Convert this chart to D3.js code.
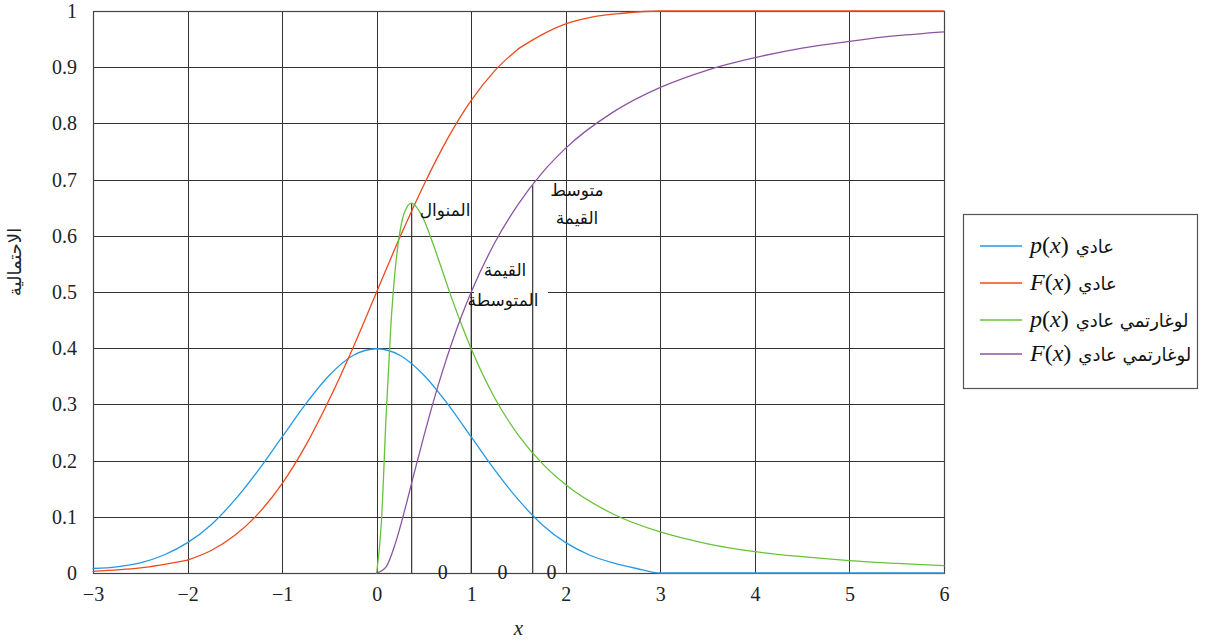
<!DOCTYPE html>
<html>
<head>
<meta charset="utf-8">
<script src="https://cdn.jsdelivr.net/npm/d3@7"></script>
<style>
  html, body { margin: 0; padding: 0; background: #fff; }
  svg { display: block; }
</style>
</head>
<body>
<svg id="chart" width="1214" height="643"></svg>
<script>
// Axis ticks
const xTicks = [-3, -2, -1, 0, 1, 2, 3, 4, 5, 6];
const yTicks = [0, 0.1, 0.2, 0.3, 0.4, 0.5, 0.6, 0.7, 0.8, 0.9, 1];
const yTickLabels = ["0", "0.1", "0.2", "0.3", "0.4", "0.5", "0.6", "0.7", "0.8", "0.9", "1"];

// Normal density p(x)
const normPdfX = [-3, -2.75, -2.5, -2.25, -2, -1.75, -1.5, -1.25, -1, -0.75, -0.5, -0.25, 0,
                  0.25, 0.5, 0.75, 1, 1.25, 1.5, 1.75, 2, 2.25, 2.5, 2.75, 3, 6];
const normPdfY = [0.008, 0.011, 0.018, 0.032, 0.054, 0.086, 0.130, 0.183, 0.242, 0.301, 0.352, 0.387, 0.399,
                  0.387, 0.352, 0.301, 0.242, 0.183, 0.130, 0.086, 0.054, 0.032, 0.018, 0.008, 0, 0];

// Normal distribution F(x); the curve has corners at x = -2 and x = 1.5
const normCdfX = [-3, -2.5, -2, -1.75, -1.5, -1.25, -1, -0.75, -0.5, -0.25, 0,
                  0.25, 0.5, 0.75, 1, 1.25, 1.5, 1.75, 2, 2.3, 2.6, 3, 6];
const normCdfY = [0.003, 0.009, 0.023, 0.040, 0.067, 0.106, 0.159, 0.227, 0.309, 0.401, 0.5,
                  0.599, 0.691, 0.773, 0.841, 0.894, 0.933, 0.958, 0.977, 0.99, 0.996, 1, 1];
const normCdfCorners = [-2, 1.5];

// Log-normal density p(x)
const logPdfX = [0, 0.05, 0.1, 0.15, 0.2, 0.25, 0.3, 0.37, 0.45, 0.5, 0.6, 0.7, 0.8, 0.9, 1,
                 1.25, 1.5, 1.75, 2, 2.5, 3, 3.5, 4, 4.5, 5, 5.5, 6];
const logPdfY = [0, 0.09, 0.28, 0.44, 0.547, 0.611, 0.644, 0.658, 0.644, 0.628, 0.584, 0.535, 0.486, 0.441, 0.399,
                 0.311, 0.245, 0.195, 0.157, 0.105, 0.073, 0.052, 0.038, 0.029, 0.022, 0.017, 0.013];

// Log-normal distribution F(x)
const logCdfX = [0, 0.1, 0.2, 0.3, 0.4, 0.5, 0.6, 0.7, 0.8, 0.9, 1,
                 1.25, 1.5, 1.75, 2, 2.5, 3, 3.5, 4, 4.5, 5, 5.5, 6];
const logCdfY = [0, 0.011, 0.054, 0.114, 0.180, 0.244, 0.305, 0.361, 0.412, 0.458, 0.5,
                 0.588, 0.657, 0.712, 0.756, 0.820, 0.864, 0.895, 0.917, 0.934, 0.946, 0.956, 0.963];

// Mode, median and mean of the log-normal curve
const markerX = [0.37, 1, 1.65];
const markerTop = [0.658, 0.5, 0.69];
const zeroLabelX = [0.70, 1.33, 1.85];

const seriesNames = ["عادي", "عادي", "لوغارتمي عادي", "لوغارتمي عادي"];
const seriesSymbols = ["p", "F", "p", "F"];
const seriesColors = ["#2499e6", "#ee4a1c", "#68c23a", "#8c55a2"];

const SERIF = "'Liberation Serif', 'DejaVu Serif', serif";
const ARABIC = "'DejaVu Sans', sans-serif";

const svg = d3.select("#chart");
const plotLeft = 93, plotRight = 944, plotTop = 11, plotBottom = 573;

const x = d3.scaleLinear().domain([-3, 6]).range([plotLeft, plotRight]);
const y = d3.scaleLinear().domain([0, 1]).range([plotBottom, plotTop]);

// Grid
const grid = svg.append("g").attr("stroke", "#333").attr("stroke-width", 1);
grid.selectAll("line.v").data(xTicks).join("line").attr("class", "v")
  .attr("x1", d => Math.round(x(d)) + 0.5).attr("x2", d => Math.round(x(d)) + 0.5)
  .attr("y1", plotTop).attr("y2", plotBottom);
grid.selectAll("line.h").data(yTicks).join("line").attr("class", "h")
  .attr("y1", d => Math.round(y(d)) + 0.5).attr("y2", d => Math.round(y(d)) + 0.5)
  .attr("x1", plotLeft).attr("x2", plotRight);

// Frame
svg.append("rect")
  .attr("x", plotLeft + 0.5).attr("y", plotTop + 0.5)
  .attr("width", plotRight - plotLeft).attr("height", plotBottom - plotTop)
  .attr("fill", "none").attr("stroke", "#444").attr("stroke-width", 1.2);

// Axes tick labels
const xAxis = d3.axisBottom(x).tickValues(xTicks).tickSize(0).tickPadding(14)
  .tickFormat(d => d < 0 ? "\u2212" + Math.abs(d) : String(d));
const gx = svg.append("g").attr("transform", `translate(0,${plotBottom})`).call(xAxis)
  .attr("font-family", SERIF).attr("font-size", 20);
gx.select(".domain").remove();
gx.selectAll("text").attr("fill", "#222");

const yAxis = d3.axisLeft(y).tickValues(yTicks).tickSize(0).tickPadding(16)
  .tickFormat((d, i) => yTickLabels[i]);
const gy = svg.append("g").attr("transform", `translate(${plotLeft},0)`).call(yAxis)
  .attr("font-family", SERIF).attr("font-size", 20);
gy.select(".domain").remove();
gy.selectAll("text").attr("fill", "#222");

// Axis titles
svg.append("text").attr("font-family", SERIF)
  .attr("x", (plotLeft + plotRight) / 2).attr("y", 635)
  .attr("text-anchor", "middle").attr("font-size", 21).attr("font-style", "italic")
  .attr("fill", "#222").text("x");
svg.append("text").attr("font-family", ARABIC)
  .attr("transform", "translate(21,262) rotate(-90)")
  .attr("text-anchor", "middle").attr("font-size", 18).attr("fill", "#222")
  .text("الاحتمالية");

// Backing for the median label
svg.append("rect").attr("x", 474).attr("y", 276).attr("width", 74).attr("height", 24).attr("fill", "#fff");

// Mode / median / mean markers
svg.append("g").attr("stroke", "#333").attr("stroke-width", 1.2)
  .selectAll("line").data(markerX).join("line")
  .attr("x1", d => x(d)).attr("x2", d => x(d))
  .attr("y1", y(0)).attr("y2", (d, i) => y(markerTop[i]));

// Curves: smooth pieces, split where a curve has a corner
const smooth = d3.line().x(d => x(d[0])).y(d => y(d[1])).curve(d3.curveMonotoneX);
function pieces(xs, ys, corners) {
  const pts = d3.zip(xs, ys);
  const cuts = [xs[0], ...corners, xs[xs.length - 1]];
  const out = [];
  for (let k = 0; k < cuts.length - 1; k++) {
    out.push(pts.filter(p => p[0] >= cuts[k] && p[0] <= cuts[k + 1]));
  }
  return out;
}
const series = [
  pieces(normPdfX, normPdfY, []),
  pieces(normCdfX, normCdfY, normCdfCorners),
  pieces(logPdfX, logPdfY, []),
  pieces(logCdfX, logCdfY, [])
];
const curveG = svg.append("g").attr("fill", "none").attr("stroke-width", 1.3)
  .attr("stroke-linejoin", "round").attr("stroke-linecap", "round");
series.forEach((segs, i) => {
  curveG.append("g").attr("stroke", seriesColors[i])
    .selectAll("path").data(segs).join("path").attr("d", smooth);
});

// Annotations
const ann = svg.append("g").attr("font-family", ARABIC).attr("fill", "#111").attr("font-size", 17).attr("text-anchor", "middle");
ann.append("text").attr("x", 445).attr("y", 216).text("المنوال");
ann.append("text").attr("x", 505).attr("y", 276).text("القيمة");
ann.append("text").attr("x", 503).attr("y", 306).text("المتوسطة");
ann.append("text").attr("x", 577).attr("y", 196).text("متوسط");
ann.append("text").attr("x", 577).attr("y", 224).text("القيمة");

svg.append("g").selectAll("text").data(zeroLabelX).join("text")
  .attr("font-family", SERIF).attr("font-size", 20).attr("fill", "#222")
  .attr("text-anchor", "middle")
  .attr("x", d => x(d)).attr("y", y(0) + 6).text("0");

// Legend
const lg = svg.append("g");
lg.append("rect").attr("x", 963.5).attr("y", 214.5).attr("width", 234).attr("height", 174)
  .attr("fill", "#fff").attr("stroke", "#555").attr("stroke-width", 1.2);
const rowY = [246, 283, 320, 354];
const items = lg.selectAll("g.item").data(seriesNames).join("g").attr("class", "item")
  .attr("transform", (d, i) => `translate(0,${rowY[i]})`);
items.append("line").attr("x1", 980).attr("x2", 1022).attr("y1", 0).attr("y2", 0)
  .attr("stroke", (d, i) => seriesColors[i]).attr("stroke-width", 1.3);
const lt = items.append("text").attr("x", 1030).attr("y", 7).attr("fill", "#111");
lt.append("tspan").attr("font-family", SERIF).attr("font-size", 24).attr("font-style", "italic").text((d, i) => seriesSymbols[i]);
lt.append("tspan").attr("font-family", SERIF).attr("font-size", 24).text("(");
lt.append("tspan").attr("font-family", SERIF).attr("font-size", 24).attr("font-style", "italic").text("x");
lt.append("tspan").attr("font-family", SERIF).attr("font-size", 24).text(")");
lt.append("tspan").attr("font-family", ARABIC).attr("font-size", 18).attr("dx", 7).text(d => d);
</script>
</body>
</html>
